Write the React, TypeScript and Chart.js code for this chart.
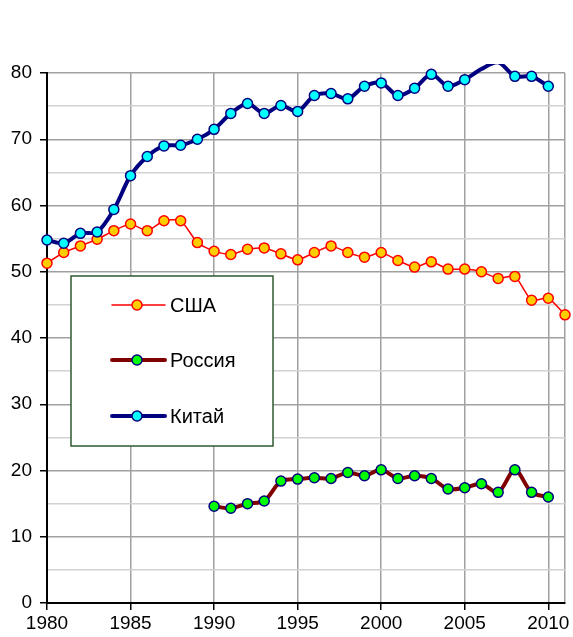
import { useEffect, useRef } from 'react';
import { Chart, registerables } from 'chart.js';

Chart.register(...registerables);

const seriesNames = ['США', 'Россия', 'Китай'];

const usaYears = [1980, 1981, 1982, 1983, 1984, 1985, 1986, 1987, 1988, 1989, 1990, 1991, 1992, 1993, 1994, 1995, 1996, 1997, 1998, 1999, 2000, 2001, 2002, 2003, 2004, 2005, 2006, 2007, 2008, 2009, 2010, 2011];
const usaValues = [51.3, 52.9, 53.9, 54.9, 56.2, 57.2, 56.2, 57.7, 57.7, 54.4, 53.1, 52.6, 53.4, 53.6, 52.7, 51.8, 52.9, 53.9, 52.9, 52.2, 52.9, 51.7, 50.7, 51.5, 50.4, 50.4, 50.0, 49.0, 49.3, 45.7, 46.0, 43.5];

const russiaYears = [1990, 1991, 1992, 1993, 1994, 1995, 1996, 1997, 1998, 1999, 2000, 2001, 2002, 2003, 2004, 2005, 2006, 2007, 2008, 2009, 2010];
const russiaValues = [14.6, 14.3, 15.0, 15.4, 18.4, 18.7, 18.9, 18.8, 19.7, 19.2, 20.1, 18.8, 19.2, 18.8, 17.2, 17.4, 18.0, 16.7, 20.1, 16.7, 16.0];

const chinaYears = [1980, 1981, 1982, 1983, 1984, 1985, 1986, 1987, 1988, 1989, 1990, 1991, 1992, 1993, 1994, 1995, 1996, 1997, 1998, 1999, 2000, 2001, 2002, 2003, 2004, 2005, 2006, 2007, 2008, 2009, 2010];
const chinaValues = [54.8, 54.3, 55.8, 56.0, 59.4, 64.5, 67.4, 69.0, 69.1, 70.0, 71.5, 73.9, 75.4, 73.9, 75.1, 74.2, 76.6, 76.9, 76.1, 78.0, 78.5, 76.6, 77.7, 79.8, 78.0, 79.0, 80.6, 81.6, 79.5, 79.5, 78.0];

const xMin = 1980;
const xMax = 2011;
const xTickYears = [1980, 1985, 1990, 1995, 2000, 2005, 2010];
const yMin = 0;
const yMax = 80;
const yTickValues = [0, 10, 20, 30, 40, 50, 60, 70, 80];
const yMinorValues = [5, 15, 25, 35, 45, 55, 65, 75];

const FONT = '"Liberation Sans", Arial, sans-serif';

const toPoints = (xs: number[], ys: number[]) => xs.map((x, i) => ({ x, y: ys[i] }));

const legendPlugin = {
  id: 'boxLegend',
  afterDraw(chart: any) {
    const ctx = chart.ctx as CanvasRenderingContext2D;
    ctx.save();
    ctx.fillStyle = '#ffffff';
    ctx.fillRect(71, 276, 202, 170);
    ctx.strokeStyle = '#2f5a2f';
    ctx.lineWidth = 1.5;
    ctx.strokeRect(71, 276, 202, 170);
    const rows = [305, 360, 416];
    chart.data.datasets.forEach((ds: any, i: number) => {
      const y = rows[i];
      ctx.beginPath();
      ctx.strokeStyle = ds.borderColor;
      ctx.lineWidth = ds.borderWidth;
      ctx.lineCap = 'round';
      ctx.moveTo(112, y);
      ctx.lineTo(165, y);
      ctx.stroke();
      ctx.beginPath();
      ctx.arc(137, y, 5, 0, Math.PI * 2);
      ctx.fillStyle = ds.pointBackgroundColor;
      ctx.fill();
      ctx.lineWidth = 1.5;
      ctx.strokeStyle = ds.pointBorderColor;
      ctx.stroke();
      ctx.fillStyle = '#000000';
      ctx.font = `20px ${FONT}`;
      ctx.textBaseline = 'middle';
      ctx.textAlign = 'left';
      ctx.fillText(seriesNames[i], 170, y + 1);
    });
    ctx.restore();
  },
};

export default function App() {
  const ref = useRef<HTMLCanvasElement | null>(null);

  useEffect(() => {
    if (!ref.current) return;
    const chart = new Chart(ref.current, {
      type: 'line',
      data: {
        datasets: [
          {
            label: seriesNames[0],
            data: toPoints(usaYears, usaValues),
            borderColor: '#ff0000',
            borderWidth: 1.5,
            pointBackgroundColor: '#ffcc00',
            pointBorderColor: '#ff0000',
            pointBorderWidth: 1.5,
            pointRadius: 5,
            tension: 0.2,
            clip: false as any,
            order: 2,
          },
          {
            label: seriesNames[1],
            data: toPoints(russiaYears, russiaValues),
            borderColor: '#800000',
            borderWidth: 4,
            pointBackgroundColor: '#00ff00',
            pointBorderColor: '#000080',
            pointBorderWidth: 1.5,
            pointRadius: 5,
            tension: 0.3,
            clip: false as any,
            order: 1,
          },
          {
            label: seriesNames[2],
            data: toPoints(chinaYears, chinaValues),
            borderColor: '#000080',
            borderWidth: 4,
            pointBackgroundColor: '#00ffff',
            pointBorderColor: '#000080',
            pointBorderWidth: 1.5,
            pointRadius: (c: any) => (c.raw && c.raw.y > yMax ? 0 : 5),
            tension: 0.3,
            clip: { left: 10, top: 9, right: 10, bottom: 10 } as any,
            order: 0,
          },
        ],
      },
      options: {
        animation: false,
        responsive: false,
        parsing: false as any,
        layout: { padding: { top: 73, right: 8, left: 0, bottom: 0 } },
        plugins: {
          legend: { display: false },
          tooltip: { enabled: false },
          title: { display: false },
        },
        scales: {
          x: {
            type: 'linear',
            min: xMin,
            max: xMax,
            afterBuildTicks: (scale: any) => {
              scale.ticks = [...xTickYears, xMax].map((v) => ({ value: v }));
            },
            afterFit: (scale: any) => {
              scale.height = 34;
            },
            ticks: {
              autoSkip: false,
              maxRotation: 0,
              padding: 2,
              color: '#000000',
              font: { family: FONT, size: 19 },
              callback: (v: any) => (xTickYears.includes(Number(v)) ? String(v) : ''),
            },
            grid: {
              color: '#a0a0a0',
              lineWidth: 1.5,
              tickLength: 7,
              tickColor: (c: any) => (c.tick && c.tick.value === xMax ? 'rgba(0,0,0,0)' : '#000000'),
            },
            border: { color: '#000000', width: 2 },
          },
          y: {
            type: 'linear',
            min: yMin,
            max: yMax,
            afterBuildTicks: (scale: any) => {
              scale.ticks = [...yTickValues, ...yMinorValues].sort((a, b) => a - b).map((v) => ({ value: v }));
            },
            afterFit: (scale: any) => {
              scale.width = 47;
            },
            ticks: {
              autoSkip: false,
              padding: 8,
              color: '#000000',
              font: { family: FONT, size: 19 },
              callback: (v: any) => (yTickValues.includes(Number(v)) ? String(v) : ''),
            },
            grid: {
              color: (c: any) => (c.tick && yTickValues.includes(c.tick.value) ? '#a0a0a0' : '#d2d2d2'),
              lineWidth: 1.5,
              tickLength: 7,
              tickColor: (c: any) => (c.tick && yTickValues.includes(c.tick.value) ? '#000000' : 'rgba(0,0,0,0)'),
            },
            border: { color: '#000000', width: 2 },
          },
        },
      },
      plugins: [legendPlugin],
    });
    return () => chart.destroy();
  }, []);

  return (
    <div style={{ position: 'fixed', left: 0, top: 0, width: 573, height: 637, background: '#ffffff' }}>
      <canvas ref={ref} width={573} height={637} style={{ display: 'block' }} />
    </div>
  );
}
